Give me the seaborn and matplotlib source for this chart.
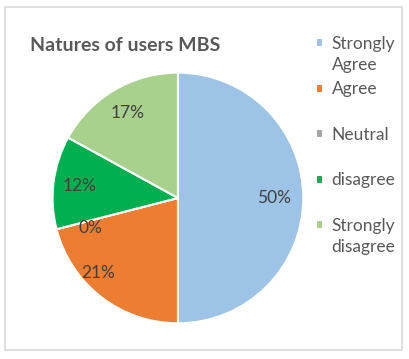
import numpy as np
import matplotlib
matplotlib.use("Agg")
import matplotlib.pyplot as plt
import seaborn as sns
from matplotlib.patches import Rectangle
from matplotlib.legend_handler import HandlerPatch

categories = ["Strongly\nAgree", "Agree\n", "Neutral\n", "disagree\n", "Strongly\ndisagree"]
shares = [50, 21, 0, 12, 17]
colors = ["#9DC3E6", "#ED7D31", "#A5A5A5", "#00B050", "#A9D18E"]

# label placement (radius fraction, angle shift in degrees), like Excel's best fit
label_radius = [0.77, 0.87, 0.74, 0.79, 0.79]
label_shift = [0, -9, 4.4, 0, 0]

sns.set_style("white")
plt.rcParams["font.family"] = ["Lato", "DejaVu Sans"]
text_color = "#595959"

fig = plt.figure(figsize=(4.09, 3.59), dpi=100)
fig.patches.append(Rectangle((0.012, 0.025), 0.97, 0.955, transform=fig.transFigure,
                             fill=False, edgecolor="#D9D9D9", linewidth=1.2))

ax = fig.add_axes([0.127, 0.0975, 0.616, 0.702])
wedges, _ = ax.pie(shares, colors=colors, startangle=90, counterclock=False,
                   wedgeprops=dict(edgecolor="white", linewidth=1.5))
ax.set_xlim(-1.005, 1.005)
ax.set_ylim(-1.005, 1.005)
ax.set_aspect("equal")

for w, val, r, s in zip(wedges, shares, label_radius, label_shift):
    mid = np.deg2rad((w.theta1 + w.theta2) / 2 + s)
    ax.text(r * np.cos(mid), r * np.sin(mid), f"{val}%", ha="center", va="center",
            fontsize=12.5, color="#404040")

fig.text(0.073, 0.872, "Natures of users MBS", fontsize=14, fontweight="bold",
         color=text_color, va="center", ha="left")


def square_top(legend, orig_handle, xdescent, ydescent, width, height, fontsize):
    # put the key next to the first line of a two line label
    return Rectangle((-xdescent, -ydescent + 0.7 * fontsize), width, height)


leg = fig.legend(wedges, categories, loc="upper left", bbox_to_anchor=(0.772, 0.9),
                 frameon=False, fontsize=12.5, handlelength=0.42, handleheight=0.42,
                 handletextpad=0.5, labelspacing=0.48, borderpad=0, borderaxespad=0,
                 handler_map={matplotlib.patches.Wedge: HandlerPatch(patch_func=square_top)})
for t in leg.get_texts():
    t.set_color(text_color)
    t.set_linespacing(1.4)

fig.savefig("out.png", dpi=100)
